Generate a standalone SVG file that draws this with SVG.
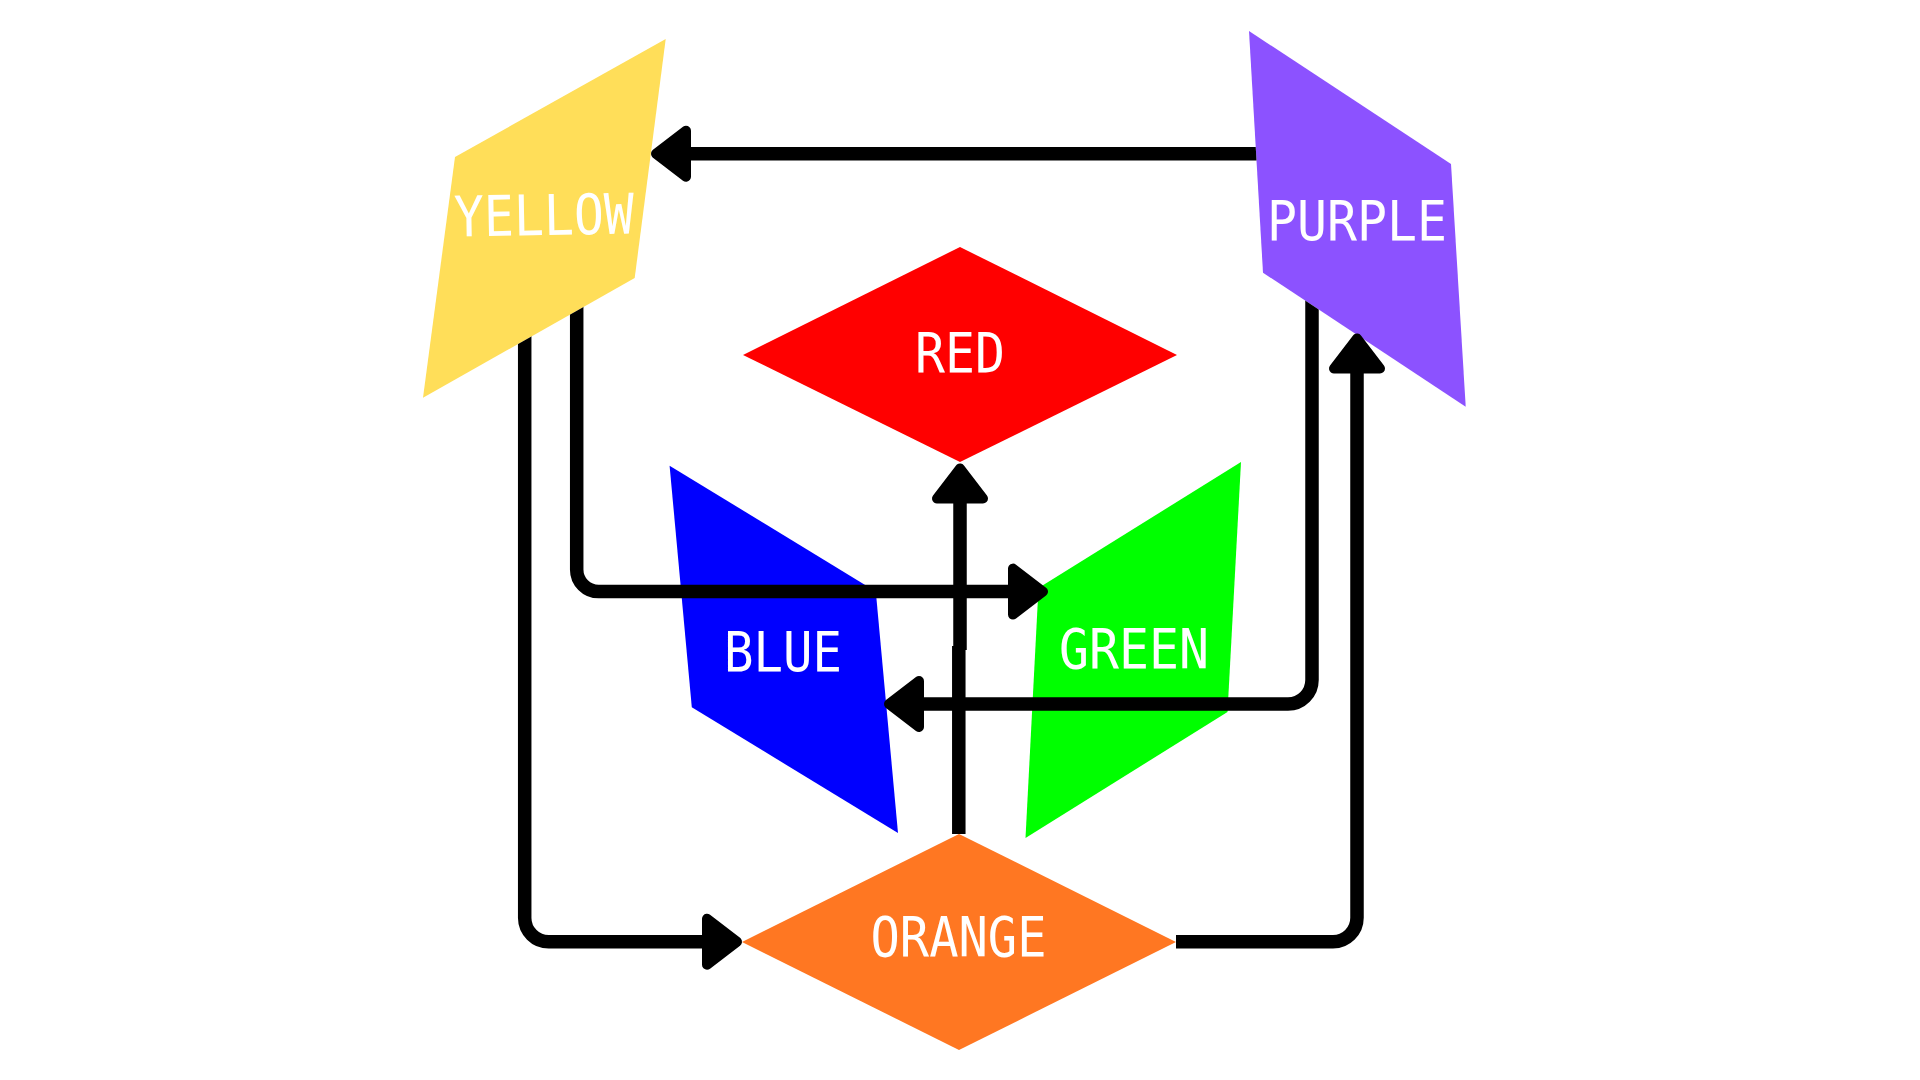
<svg xmlns="http://www.w3.org/2000/svg" width="1920" height="1080" viewBox="0 0 1920 1080">
  <style>
    .lbl { font-family: "DejaVu Sans Mono", "Liberation Mono", monospace; font-size: 56px; fill: #FFFFFF; text-anchor: middle; }
    .conn { fill: none; stroke: #000000; stroke-width: 13.5; }
  </style>
  <defs>
    <marker id="arrow" markerUnits="userSpaceOnUse" viewBox="-45 -32 50 64" markerWidth="50" markerHeight="64" refX="-38" refY="0" orient="auto" overflow="visible">
      <path d="M-5 0 L-35 -23 L-35 23 Z" fill="#000000" stroke="#000000" stroke-width="10" stroke-linejoin="round"/>
    </marker>
    <clipPath id="notYellow">
      <path clip-rule="evenodd" d="M0 0 H1920 V1080 H0 Z M455 157 L665.7 39 L634.7 278 L423 397.7 Z"/>
    </clipPath>
    <clipPath id="notPurple">
      <path clip-rule="evenodd" d="M0 0 H1920 V1080 H0 Z M1249 31 L1451 164 L1465.7 406.7 L1263 272.7 Z"/>
    </clipPath>
  </defs>
  <rect width="1920" height="1080" fill="#FFFFFF"/>

  <g id="yellow">
    <polygon points="455,157 665.7,39 634.7,278 423,397.7" fill="#FFDE59"/>
    <text class="lbl" x="544" y="235" textLength="180" lengthAdjust="spacingAndGlyphs" transform="rotate(-1 544 215)">YELLOW</text>
  </g>
  <g id="purple">
    <polygon points="1249,31 1451,164 1465.7,406.7 1263,272.7" fill="#8C52FF"/>
    <text class="lbl" x="1357" y="239.5" textLength="180" lengthAdjust="spacingAndGlyphs">PURPLE</text>
  </g>
  <g id="red">
    <polygon points="960,247 1177,355 960,462 743,355" fill="#FF0000"/>
    <text class="lbl" x="960" y="371.5" textLength="90" lengthAdjust="spacingAndGlyphs">RED</text>
  </g>
  <g id="blue">
    <polygon points="669.6,465.7 875.8,591.4 898,833 691.8,707.3" fill="#0000FF"/>
    <text class="lbl" x="783" y="671" textLength="118" lengthAdjust="spacingAndGlyphs">BLUE</text>
  </g>
  <g id="green">
    <polygon points="1038.5,588 1241,462 1227.5,712 1025.5,838" fill="#00FF00"/>
    <text class="lbl" x="1134" y="668" textLength="150" lengthAdjust="spacingAndGlyphs">GREEN</text>
  </g>
  <g id="orange">
    <polygon points="959,834 1176,942 959,1050 742,942" fill="#FF7722"/>
    <text class="lbl" x="958.5" y="956" textLength="176" lengthAdjust="spacingAndGlyphs">ORANGE</text>
  </g>

  <g id="connectors">
    <path class="conn" clip-path="url(#notPurple)" d="M1275 153.7 H689" marker-end="url(#arrow)"/>
    <path class="conn" clip-path="url(#notYellow)" d="M576.7 295 V569.5 A22 22 0 0 0 598.7 591.6 H1010" marker-end="url(#arrow)"/>
    <path class="conn" clip-path="url(#notYellow)" d="M524.7 325 V918 A24 24 0 0 0 548.7 941.8 H704" marker-end="url(#arrow)"/>
    <path class="conn" d="M958.8 834 V646"/>
    <path class="conn" d="M960 650 V501.5" marker-end="url(#arrow)"/>
    <path class="conn" clip-path="url(#notPurple)" d="M1312 290 V680 A24 24 0 0 1 1288 704 H922" marker-end="url(#arrow)"/>
    <path class="conn" d="M1176 941.8 H1333 A24 24 0 0 0 1357 917.8 V371.5" marker-end="url(#arrow)"/>
  </g>
</svg>
